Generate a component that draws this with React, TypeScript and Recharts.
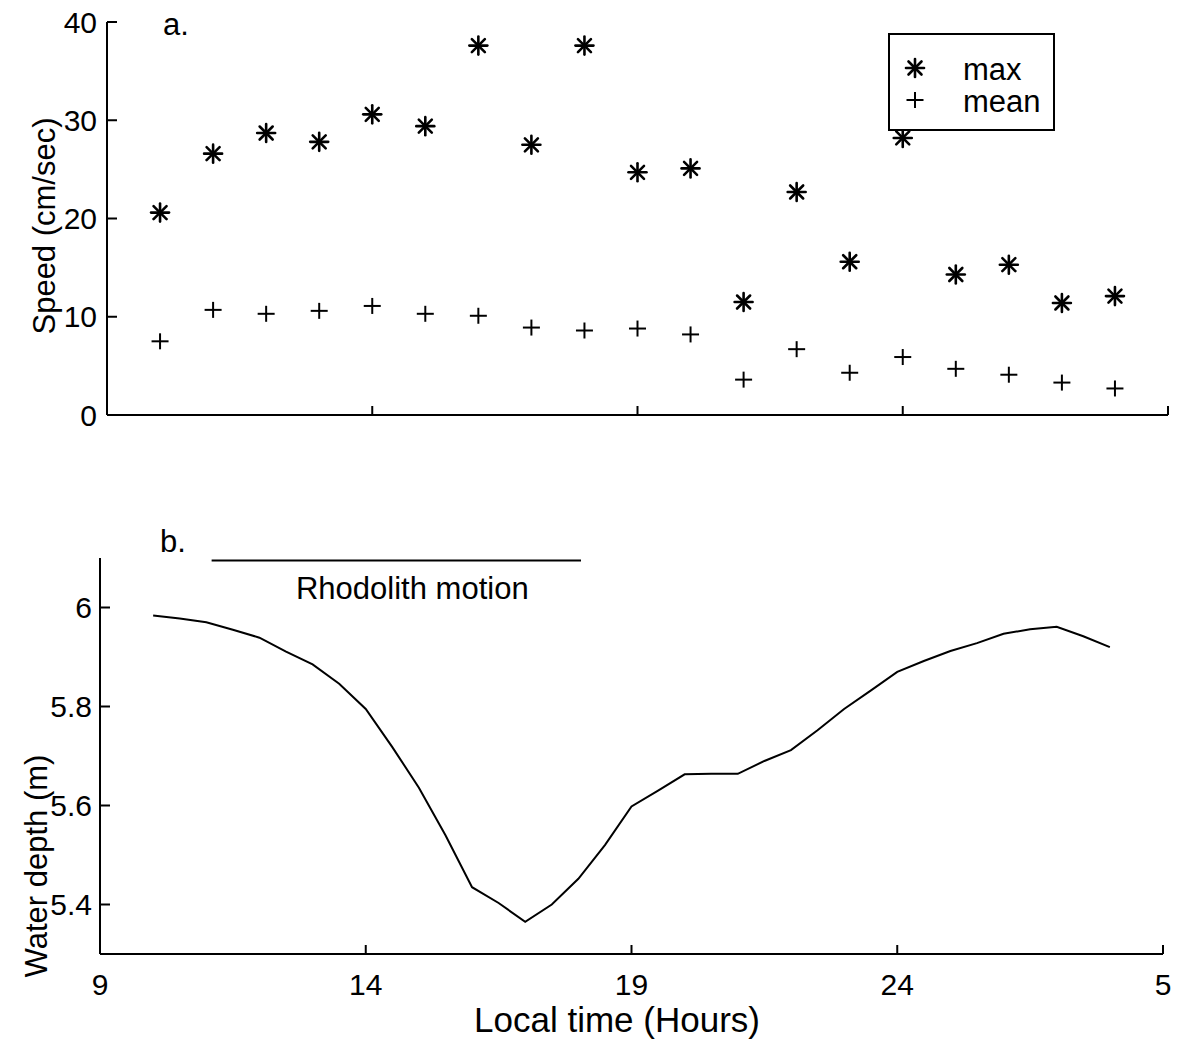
import React from 'react';
import { ScatterChart, Scatter, LineChart, Line, XAxis, YAxis, Legend, ReferenceLine } from 'recharts';

// panel a: hourly current speed
const hours = [10, 11, 12, 13, 14, 15, 16, 17, 18, 19, 20, 21, 22, 23, 24, 25, 26, 27, 28];
const maxSpeed = [20.6, 26.6, 28.7, 27.8, 30.6, 29.4, 37.6, 27.5, 37.6, 24.7, 25.1, 11.5, 22.7, 15.6, 28.2, 14.3, 15.3, 11.4, 12.1];
const meanSpeed = [7.5, 10.7, 10.3, 10.6, 11.1, 10.3, 10.1, 8.9, 8.6, 8.8, 8.2, 3.6, 6.7, 4.3, 5.9, 4.7, 4.1, 3.3, 2.7];
const speedTicks = [0, 10, 20, 30, 40];

// panel b: water depth
const depthTime = [10, 10.5, 11, 11.5, 12, 12.5, 13, 13.5, 14, 14.5, 15, 15.5, 16, 16.5, 17, 17.5, 18, 18.5, 19, 19.5, 20, 20.5, 21, 21.5, 22, 22.5, 23, 23.5, 24, 24.5, 25, 25.5, 26, 26.5, 27, 27.5, 28];
const depthValues = [5.984, 5.978, 5.97, 5.955, 5.939, 5.911, 5.885, 5.846, 5.795, 5.718, 5.636, 5.54, 5.435, 5.403, 5.365, 5.4, 5.452, 5.52, 5.598, 5.63, 5.663, 5.664, 5.664, 5.69, 5.712, 5.752, 5.795, 5.832, 5.87, 5.892, 5.912, 5.928, 5.947, 5.956, 5.961, 5.942, 5.92];
const depthTicks = [5.4, 5.6, 5.8, 6];
const timeTicks = [9, 14, 19, 24, 29];
const rhodolithMotion = [11.1, 18.05];

const FONT = '"Liberation Sans", Arial, Helvetica, sans-serif';
const TICK_SIZE = 30;
const LABEL_SIZE = 31;

const maxData = hours.map((h, i) => ({ x: h, y: maxSpeed[i] }));
const meanData = hours.map((h, i) => ({ x: h, y: meanSpeed[i] }));
const depthData = depthTime.map((t, i) => ({ t, depth: depthValues[i] }));

const hourLabel = (v: number) => String(v > 24 ? v - 24 : v);

const AsteriskMark = ({ cx, cy }: any) => (
  <g stroke="#000" strokeWidth={2.6} strokeLinecap="round">
    <line x1={cx} y1={cy - 9} x2={cx} y2={cy + 9} />
    <line x1={cx - 9} y1={cy} x2={cx + 9} y2={cy} />
    <line x1={cx - 6.5} y1={cy - 6.5} x2={cx + 6.5} y2={cy + 6.5} />
    <line x1={cx - 6.5} y1={cy + 6.5} x2={cx + 6.5} y2={cy - 6.5} />
  </g>
);

const PlusMark = ({ cx, cy }: any) => (
  <g stroke="#000" strokeWidth={2}>
    <line x1={cx - 8.5} y1={cy} x2={cx + 8.5} y2={cy} />
    <line x1={cx} y1={cy - 8} x2={cx} y2={cy + 8} />
  </g>
);

const SpeedLegend = ({ payload }: any) => (
  <svg width={167} height={98} style={{ display: 'block' }}>
    <rect x={1} y={1} width={165} height={96} fill="#fff" stroke="#000" strokeWidth={2} />
    {(payload || []).map((p: any, i: number) => (
      <g key={p.value}>
        {i === 0 ? <AsteriskMark cx={27} cy={35} /> : <PlusMark cx={27} cy={67} />}
        <text x={75} y={47 + i * 32} fontFamily={FONT} fontSize={LABEL_SIZE} fill="#000">
          {p.value}
        </text>
      </g>
    ))}
  </svg>
);

const axisLine = { stroke: '#000', strokeWidth: 2 };
const tickStyle = { fontFamily: FONT, fontSize: TICK_SIZE, fill: '#000' };

const panelTag = (top: number, left: number, text: string) => (
  <div style={{ position: 'absolute', top, left, fontFamily: FONT, fontSize: LABEL_SIZE, lineHeight: 1 }}>{text}</div>
);

export default function App() {
  return (
    <div style={{ position: 'absolute', top: 0, left: 0, width: 1180, height: 1039, background: '#fff' }}>
      <div style={{ position: 'absolute', top: 0, left: 0 }}>
        <ScatterChart width={1180} height={440} margin={{ top: 22, right: 12, bottom: 24, left: 0 }}>
          <XAxis
            type="number"
            dataKey="x"
            domain={[9, 29]}
            ticks={timeTicks}
            interval={0}
            tickFormatter={() => ''}
            tickSize={-9}
            height={1}
            axisLine={axisLine}
            tickLine={axisLine}
          />
          <YAxis
            type="number"
            dataKey="y"
            domain={[0, 40]}
            ticks={speedTicks}
            interval={0}
            width={107}
            tickSize={-10}
            tickMargin={20}
            fontSize={TICK_SIZE}
            fontFamily={FONT}
            tick={tickStyle}
            axisLine={axisLine}
            tickLine={axisLine}
            label={() => (
              <text
                x={44}
                y={226}
                transform="rotate(-90 44 226)"
                textAnchor="middle"
                dominantBaseline="central"
                fontFamily={FONT}
                fontSize={LABEL_SIZE}
                fill="#000"
              >
                Speed (cm/sec)
              </text>
            )}
          />
          <Scatter name="max" data={maxData} shape={AsteriskMark} isAnimationActive={false} />
          <Scatter name="mean" data={meanData} shape={PlusMark} isAnimationActive={false} />
          <Legend
            layout="vertical"
            align="center"
            verticalAlign="middle"
            content={SpeedLegend}
            wrapperStyle={{ top: 33, left: 888, width: 167, height: 98 }}
          />
        </ScatterChart>
      </div>
      {panelTag(9, 163, 'a.')}

      <div style={{ position: 'absolute', top: 440, left: 0 }}>
        <LineChart width={1180} height={599} data={depthData} margin={{ top: 118, right: 17, bottom: 0, left: 0 }}>
          <XAxis
            type="number"
            dataKey="t"
            domain={[9, 29]}
            ticks={timeTicks}
            interval={0}
            tickFormatter={hourLabel}
            tickSize={-9}
            tickMargin={29}
            height={85}
            fontSize={TICK_SIZE}
            fontFamily={FONT}
            tick={tickStyle}
            axisLine={axisLine}
            tickLine={axisLine}
            label={() => (
              <text x={617} y={592} textAnchor="middle" fontFamily={FONT} fontSize={35} fill="#000">
                Local time (Hours)
              </text>
            )}
          />
          <YAxis
            type="number"
            domain={[5.3, 6.1]}
            ticks={depthTicks}
            interval={0}
            width={100}
            tickSize={-10}
            tickMargin={18}
            fontSize={TICK_SIZE}
            fontFamily={FONT}
            tick={tickStyle}
            axisLine={axisLine}
            tickLine={axisLine}
            label={() => (
              <text
                x={36}
                y={426}
                transform="rotate(-90 36 426)"
                textAnchor="middle"
                dominantBaseline="central"
                fontFamily={FONT}
                fontSize={LABEL_SIZE}
                fill="#000"
              >
                Water depth (m)
              </text>
            )}
          />
          <ReferenceLine
            segment={[{ x: rhodolithMotion[0], y: 6.095 }, { x: rhodolithMotion[1], y: 6.095 }]}
            stroke="#000"
            strokeWidth={2}
            ifOverflow="visible"
            label={(p: any) => {
              const vb = p.viewBox || { x: 0, y: 0, width: 0 };
              return (
                <text
                  x={vb.x + vb.width / 2 + 16}
                  y={vb.y + 39}
                  textAnchor="middle"
                  fontFamily={FONT}
                  fontSize={LABEL_SIZE}
                  fill="#000"
                >
                  Rhodolith motion
                </text>
              );
            }}
          />
          <Line
            type="linear"
            dataKey="depth"
            stroke="#000"
            strokeWidth={2}
            dot={false}
            isAnimationActive={false}
          />
        </LineChart>
      </div>
      {panelTag(526, 160, 'b.')}
    </div>
  );
}
